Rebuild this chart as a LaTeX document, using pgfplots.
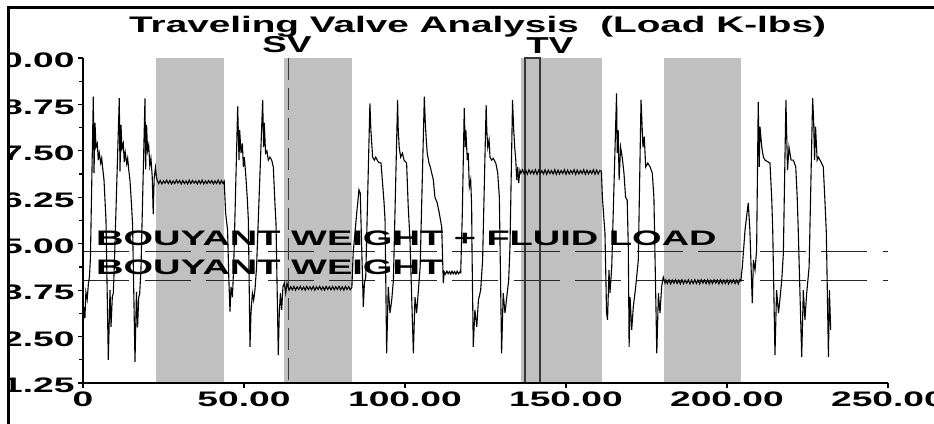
\documentclass[border=0pt]{standalone}
\usepackage{fontspec}
\setmainfont{Liberation Sans}
\usepackage{graphicx}
\usepackage{pgfplots}
\pgfplotsset{compat=1.18}
\definecolor{bandgray}{RGB}{192,192,192}
\definecolor{mkgray}{RGB}{55,55,55}
\newcommand{\tl}[1]{\scalebox{1.77}[1]{#1}}
\begin{document}
\begin{tikzpicture}[x=1pt,y=1pt]
\begin{axis}[
    at={(83pt,40pt)}, anchor=south west,
    scale only axis, width=805pt, height=325pt,
    xmin=0, xmax=250, ymin=1.25, ymax=10,
    axis x line=bottom, axis y line=left,
    axis line style={line width=1.4pt,-},
    every outer x axis line/.append style={-},
    every outer y axis line/.append style={-},
    xtick={0,50,100,150,200,250},
    xticklabels={\tl{0},\tl{50.00},\tl{100.00},\tl{150.00},\tl{200.00},\tl{250.00}},
    ytick={1.25,2.5,3.75,5,6.25,7.5,8.75,10},
    yticklabels={\tl{1.25},\tl{2.50},\tl{3.75},\tl{5.00},\tl{6.25},\tl{7.50},\tl{8.75},\tl{10.00}},
    minor y tick num=1,
    tick align=outside,
    major tick length=5pt, minor tick length=4pt,
    tick style={black, line width=1.2pt},
    ticklabel style={font=\fontsize{21}{21}\selectfont\bfseries, text=black},
    yticklabel style={yshift=-2.5pt},
    clip=false, axis on top,
]
% shaded regions
\addplot[draw=none, fill=bandgray] coordinates {(22.6,1.25)(22.6,10)(43.8,10)(43.8,1.25)};
\addplot[draw=none, fill=bandgray] coordinates {(62.5,1.25)(62.5,10)(83.4,10)(83.4,1.25)};
\addplot[draw=none, fill=bandgray] coordinates {(135.9,1.25)(135.9,10)(161.1,10)(161.1,1.25)};
\addplot[draw=none, fill=bandgray] coordinates {(180.5,1.25)(180.5,10)(204.2,10)(204.2,1.25)};
% reference levels
\addplot[black!85, line width=0.9pt, dash pattern=on 46pt off 15.5pt] coordinates {(0,4.80)(250,4.80)};
\addplot[black!85, line width=0.9pt, dash pattern=on 46pt off 15.5pt] coordinates {(0,4.02)(250,4.02)};
% SV and TV markers
\addplot[mkgray, line width=1.3pt, dash pattern=on 22pt off 8pt] coordinates {(63.9,10)(63.9,1.25)};
\addplot[mkgray, line width=1.3pt] coordinates {(137.3,1.25)(137.3,10)(141.9,10)(141.9,1.25)};
% load trace
\addplot[black, line width=1.1pt] coordinates {
(0.0,2.65)(0.3,3.3)(0.6,3.0)(0.9,3.7)(1.3,3.5)(1.7,3.95)(2.0,4.1)(2.3,4.6)
(3.2,8.96)(3.42,6.9)(3.73,8.25)(4.04,7.6)(4.44,7.7)(4.75,7.25)(5.06,7.44)(5.5,7.17)(5.8,7.3)(6.12,7.03)(6.52,6.72)(6.93,6.0)(7.14,5.64)
(7.86,1.87)(8.39,3.75)(8.7,2.76)(9.1,3.56)(9.41,3.67)(9.72,4.37)
(11.27,8.92)(11.49,6.95)(11.8,8.2)(12.11,7.55)(12.51,7.7)(12.82,7.2)(13.13,7.45)(13.57,7.15)(13.88,7.3)(14.19,7.0)(14.6,6.7)(15.1,6.0)(15.4,5.5)
(16.15,1.82)(16.6,3.7)(16.95,2.75)(17.3,3.55)(17.6,3.65)(18.0,4.3)
(19.25,8.91)(19.45,7.0)(19.75,8.2)(20.05,7.5)(20.4,7.65)(20.75,7.1)(21.1,7.3)(21.5,6.8)(21.8,5.8)(22.1,6.75)(22.5,7.05)(22.8,6.8)
(23.0,6.72)(23.5,6.62)(24.0,6.70)(24.5,6.61)(25.0,6.69)(25.5,6.63)(26.0,6.71)(26.5,6.62)(27.0,6.70)(27.5,6.61)
(28.0,6.69)(28.5,6.62)(29.0,6.71)(29.5,6.63)(30.0,6.70)(30.5,6.61)(31.0,6.70)(31.5,6.62)(32.0,6.69)(32.5,6.61)
(33.0,6.71)(33.5,6.62)(34.0,6.70)(34.5,6.63)(35.0,6.69)(35.5,6.61)(36.0,6.70)(36.5,6.62)(37.0,6.71)(37.5,6.61)
(38.0,6.69)(38.5,6.62)(39.0,6.70)(39.5,6.63)(40.0,6.70)(40.5,6.61)(41.0,6.69)(41.5,6.62)(42.0,6.71)(42.5,6.61)
(43.0,6.70)(43.5,6.62)(43.85,6.68)
(44.3,5.82)(44.9,5.37)(45.3,4.02)(45.65,3.17)(45.96,3.84)(46.4,3.56)(46.8,4.37)
(48.04,8.7)(48.45,7.25)(48.66,8.06)(49.07,7.44)(49.5,7.7)(49.8,7.07)(50.1,7.33)(50.5,6.9)(51.0,6.25)(51.35,5.64)
(51.86,2.22)(52.17,3.13)(52.6,3.67)(53.0,3.48)(53.4,3.75)(53.9,4.37)
(55.8,8.87)(56.1,7.6)(56.3,8.25)(56.7,7.44)(57.1,7.5)(57.55,7.25)(58.07,7.33)(58.6,7.25)(59.1,7.07)(59.6,6.1)(59.94,5.55)
(60.65,2.0)(60.96,3.13)(61.3,3.67)(61.7,3.22)(62.1,3.84)(62.5,3.94)(62.95,3.67)(63.35,3.94)
(63.6,3.86)(64.0,3.75)(64.5,3.84)(65.0,3.76)(65.5,3.85)(66.0,3.75)(66.5,3.84)(67.0,3.77)(67.5,3.85)(68.0,3.76)
(68.5,3.84)(69.0,3.75)(69.5,3.85)(70.0,3.77)(70.5,3.84)(71.0,3.76)(71.5,3.85)(72.0,3.75)(72.5,3.84)(73.0,3.77)
(73.5,3.85)(74.0,3.76)(74.5,3.84)(75.0,3.75)(75.5,3.85)(76.0,3.77)(76.5,3.84)(77.0,3.76)(77.5,3.85)(78.0,3.76)
(78.5,3.84)(79.0,3.77)(79.5,3.85)(80.0,3.76)(80.5,3.84)(81.0,3.75)(81.5,3.85)(82.0,3.77)(82.5,3.84)(83.0,3.76)(83.5,3.82)
(83.9,4.74)(85.0,5.82)(85.7,6.45)(86.1,6.36)(86.55,4.91)(87.05,3.3)(87.4,3.94)(87.8,4.1)
(89.1,8.78)(89.4,8.06)(89.95,7.33)(90.5,7.25)(90.9,7.33)(91.7,7.2)(92.55,7.17)(92.95,6.72)(93.5,6.1)(93.8,5.64)
(94.3,2.05)(94.8,3.84)(95.34,3.13)(95.87,3.48)(96.4,4.02)
(97.7,8.87)(97.9,8.06)(98.2,7.6)(98.65,7.33)(99.2,7.44)(99.7,7.25)(100.5,7.17)(101.0,6.0)(101.55,5.1)
(102.6,2.05)(103.1,3.56)(103.6,3.13)(104.1,3.67)(104.7,4.37)
(106.0,8.96)(106.3,8.25)(106.6,7.8)(106.9,7.44)(107.45,7.17)(107.85,7.07)(108.3,6.9)(108.8,6.72)(109.3,6.25)(110.0,6.1)(110.65,5.82)(111.4,5.45)(111.9,3.94)(112.2,4.24)
(112.6,4.18)(113.0,4.26)(113.4,4.19)(113.8,4.25)(114.2,4.18)(114.6,4.26)(115.0,4.19)(115.4,4.25)(115.8,4.18)(116.2,4.26)(116.6,4.19)(117.0,4.24)(117.3,4.22)
(117.8,5.82)(118.4,8.65)(118.7,7.6)(118.9,8.06)(119.35,7.25)(119.65,7.44)(119.97,6.53)(120.4,6.72)(120.7,6.0)(120.8,4.91)
(121.2,2.22)(121.7,3.22)(122.3,2.76)(122.8,3.48)(123.5,3.75)(124.1,4.56)
(125.2,8.73)(125.4,8.06)(125.7,7.6)(126.1,7.8)(126.4,7.33)(126.9,7.25)(127.4,7.3)(128.2,7.17)(128.8,6.9)(129.3,6.25)
(130.0,2.05)(130.5,3.67)(131.05,3.13)(131.6,3.56)(132.2,4.02)(132.6,4.91)
(133.4,8.87)(133.76,8.06)(134.07,7.6)(134.4,7.25)(134.7,6.72)(135.0,7.07)(135.3,6.63)(135.7,6.98)
(136.0,6.90)(136.5,6.99)(137.0,6.88)(137.5,6.98)(138.0,6.87)(138.5,6.99)(139.0,6.89)(139.5,6.97)(140.0,6.88)(140.5,6.99)
(141.0,6.87)(141.5,6.98)(142.0,6.89)(142.5,6.97)(143.0,6.88)(143.5,6.99)(144.0,6.87)(144.5,6.98)(145.0,6.89)(145.5,6.97)
(146.0,6.88)(146.5,6.99)(147.0,6.87)(147.5,6.98)(148.0,6.88)(148.5,6.97)(149.0,6.89)(149.5,6.99)(150.0,6.87)(150.5,6.98)
(151.0,6.88)(151.5,6.97)(152.0,6.89)(152.5,6.99)(153.0,6.87)(153.5,6.98)(154.0,6.88)(154.5,6.97)(155.0,6.89)(155.5,6.99)
(156.0,6.87)(156.5,6.98)(157.0,6.88)(157.5,6.97)(158.0,6.89)(158.5,6.99)(159.0,6.87)(159.5,6.98)(160.0,6.88)(160.5,6.97)(161.0,6.95)
(161.3,6.25)(161.8,5.64)(162.1,5.29)(162.6,3.13)(162.9,2.95)(163.35,4.29)(163.66,3.67)(164.2,4.37)
(165.7,9.05)(165.9,7.44)(166.2,8.06)(166.5,6.72)(166.95,7.6)(167.45,7.33)(168.0,6.9)(168.5,6.25)(169.0,6.18)(169.35,4.91)
(169.6,2.22)(169.9,3.56)(170.4,2.68)(170.9,3.3)(171.65,3.84)(172.45,4.56)
(173.3,8.87)(173.6,8.25)(173.9,7.6)(174.3,7.88)(174.75,7.07)(175.4,7.17)(176.1,7.07)(176.8,6.9)(177.3,6.25)
(178.2,2.05)(178.7,3.67)(179.2,3.13)(179.7,3.84)(180.2,4.1)(180.75,3.94)
(181.0,4.02)(181.5,3.93)(182.0,4.03)(182.5,3.92)(183.0,4.02)(183.5,3.94)(184.0,4.03)(184.5,3.93)(185.0,4.02)(185.5,3.92)
(186.0,4.03)(186.5,3.93)(187.0,4.02)(187.5,3.94)(188.0,4.03)(188.5,3.92)(189.0,4.02)(189.5,3.93)(190.0,4.03)(190.5,3.93)
(191.0,4.02)(191.5,3.92)(192.0,4.03)(192.5,3.94)(193.0,4.02)(193.5,3.93)(194.0,4.03)(194.5,3.92)(195.0,4.02)(195.5,3.93)
(196.0,4.03)(196.5,3.94)(197.0,4.02)(197.5,3.92)(198.0,4.03)(198.5,3.93)(199.0,4.02)(199.5,3.93)(200.0,4.03)(200.5,3.92)
(201.0,4.02)(201.5,3.94)(202.0,4.03)(202.5,3.93)(203.0,4.02)(203.5,3.92)(204.0,4.03)(204.3,4.00)
(204.75,4.37)(205.6,5.37)(206.6,6.1)(207.1,5.37)(207.85,3.4)(208.2,4.56)(208.7,4.29)(209.2,4.83)
(209.7,8.82)(210.0,7.07)(210.25,8.15)(210.8,7.6)(211.3,7.33)(211.8,7.25)(212.8,7.2)(213.35,7.17)(213.9,6.18)(214.2,5.37)
(214.9,2.0)(215.4,3.75)(216.0,3.13)(216.5,3.56)(217.0,4.02)(217.5,4.74)
(218.3,8.87)(218.5,8.06)(218.8,6.98)(219.25,7.6)(219.9,7.25)(220.6,7.25)(221.35,7.07)(221.8,6.25)(222.1,5.45)
(223.2,1.95)(223.7,3.75)(224.2,2.95)(224.75,3.67)(225.5,4.37)
(226.6,8.92)(226.9,8.33)(227.2,7.25)(227.5,8.15)(228.0,7.25)(228.4,7.33)(229.2,7.2)(229.9,7.07)(230.4,6.18)(230.85,5.29)
(231.5,1.95)(231.8,3.75)(232.2,2.68)
};
\end{axis}
% texts
\node[anchor=base west, inner sep=0] at (129,390) {\fontsize{22.5}{26}\selectfont\bfseries\scalebox{1.72}[1]{Traveling Valve Analysis\ \ (Load K-lbs)}};
\node[anchor=base, inner sep=0] at (287,370) {\fontsize{23}{26}\selectfont\bfseries\scalebox{1.6}[1]{SV}};
\node[anchor=base, inner sep=0] at (550,369) {\fontsize{23}{26}\selectfont\bfseries\scalebox{1.6}[1]{TV}};
\node[anchor=base west, inner sep=0] at (96,177) {\fontsize{21}{24}\selectfont\bfseries\scalebox{1.81}[1]{BOUYANT WEIGHT + FLUID LOAD}};
\node[anchor=base west, inner sep=0] at (96,148) {\fontsize{21}{24}\selectfont\bfseries\scalebox{1.81}[1]{BOUYANT WEIGHT}};
% outer frame
\fill[white] (-200,-100) rectangle (7.5,600);
\draw[line width=2.5pt] (8.7,-20) -- (8.7,415.7) -- (960,415.7);
\pgfresetboundingbox
\path[use as bounding box] (0,0) rectangle (934,423);
\end{tikzpicture}
\end{document}
